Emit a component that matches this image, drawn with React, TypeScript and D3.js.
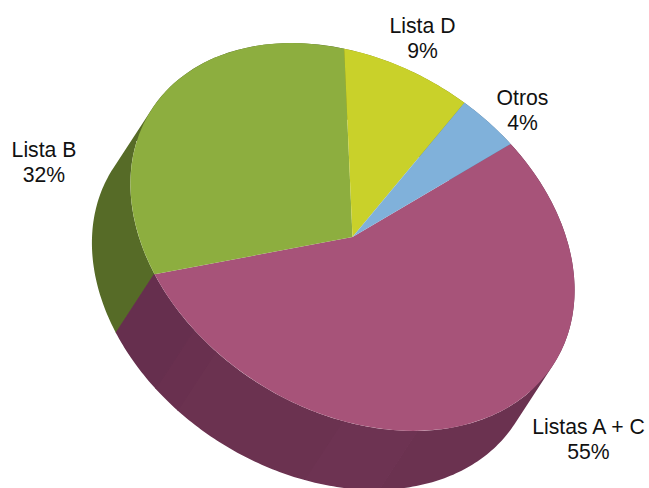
import React from "react";
import * as d3 from "d3";

const categories = ["Listas A + C", "Lista B", "Lista D", "Otros"];
const shares = [54.9, 31.9, 9.0, 4.2];
const percentLabels = ["55%", "32%", "9%", "4%"];
const topColors = ["#A75379", "#8DAE3F", "#C9D12A", "#80B1DA"];
const sideColors = ["#6B3250", "#566B27", "#8A8F1C", "#587A98"];
const pinkFacetStops = [48.4, 68, 103.4, 111];
const pinkFacetColors = ["#6B3250", "#6D3352", "#6B3250", "#69304F", "#662F4E"];
const labelCenters = [
  [588.5, 434],
  [44, 157],
  [422.5, 33],
  [522.5, 105],
];

const W = 649;
const H = 488;
const CX = 352.5;
const CY = 237;
const RX = 238;
const RY = 174;
const TILT = 31.8;
const DX = -38.5;
const DY = 59;
const START = (21 * Math.PI) / 180;

const pie = d3
  .pie<number>()
  .sort(null)
  .startAngle(START)
  .endAngle(START + 2 * Math.PI);
const arcs = pie(shares);
const arc = d3.arc<d3.PieArcDatum<number>>().innerRadius(0).outerRadius(100);

const rad = (TILT * Math.PI) / 180;
const project = (a: number, dx = 0, dy = 0): [number, number] => {
  const u = Math.sin(a) * RX;
  const v = -Math.cos(a) * RY;
  return [
    CX + dx + u * Math.cos(rad) - v * Math.sin(rad),
    CY + dy + u * Math.sin(rad) + v * Math.cos(rad),
  ];
};

// The side wall is the sweep of the rim: one consistently wound quad per step,
// so the straight silhouette edges at the tangent points are filled too.
const strip = (a0: number, a1: number) => {
  const n = Math.max(4, Math.ceil((a1 - a0) * 60));
  const angles = d3.range(n + 1).map((i) => a0 + ((a1 - a0) * i) / n);
  const line = d3.line();
  return d3
    .pairs(angles)
    .map(([p, q]) => {
      const quad: [number, number][] = [
        project(p),
        project(q),
        project(q, DX, DY),
        project(p, DX, DY),
      ];
      if (d3.polygonArea(quad) < 0) quad.reverse();
      return (line(quad) ?? "") + "Z";
    })
    .join("");
};

const deg = (t: number) => ((t + 90) * Math.PI) / 180;
const pinkEdges = [arcs[0].startAngle, ...pinkFacetStops.map(deg), arcs[0].endAngle];

export default function App() {
  return (
    <svg
      width={W}
      height={H}
      viewBox={`0 0 ${W} ${H}`}
      style={{ position: "absolute", left: 0, top: 0, background: "#fff" }}
    >
      <g>
        {arcs.slice(1).map((d, i) => (
          <path key={i} d={strip(d.startAngle, d.endAngle)} fill={sideColors[i + 1]} />
        ))}
        {pinkFacetColors.map((c, i) => (
          <path key={i} d={strip(pinkEdges[i], pinkEdges[i + 1] + 0.004)} fill={c} />
        ))}
      </g>
      <g transform={`translate(${CX},${CY}) rotate(${TILT}) scale(${RX / 100},${RY / 100})`}>
        {arcs.map((d, i) => (
          <path key={i} d={arc(d) ?? ""} fill={topColors[i]} />
        ))}
      </g>
      <g
        fontFamily="'Liberation Sans', Arial, sans-serif"
        fontSize={21.2}
        fill="#111"
        textAnchor="middle"
      >
        {categories.map((c, i) => (
          <text key={c} x={labelCenters[i][0]} y={labelCenters[i][1]}>
            <tspan x={labelCenters[i][0]}>{c}</tspan>
            <tspan x={labelCenters[i][0]} dy={24.5}>
              {percentLabels[i]}
            </tspan>
          </text>
        ))}
      </g>
    </svg>
  );
}
